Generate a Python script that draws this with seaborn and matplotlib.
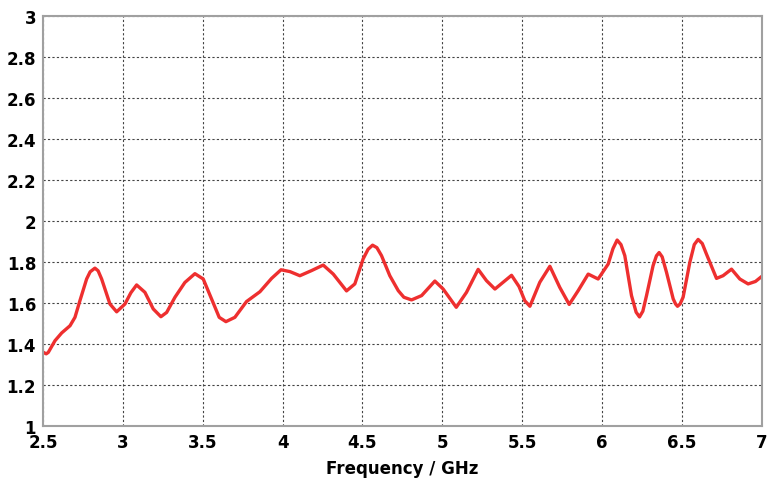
import matplotlib
matplotlib.use("Agg")
import matplotlib.pyplot as plt
import seaborn as sns
import pandas as pd

freq_ghz = [2.500, 2.520, 2.533, 2.575, 2.617, 2.669, 2.700, 2.731, 2.773, 2.795, 2.825,
            2.845, 2.867, 2.919, 2.961, 3.013, 3.050, 3.086, 3.138, 3.190, 3.238, 3.274, 3.326,
            3.388, 3.451, 3.503, 3.555, 3.603, 3.645, 3.701, 3.774, 3.858, 3.931, 3.990,
            4.046, 4.108, 4.181, 4.254, 4.317, 4.400, 4.452, 4.504, 4.535, 4.563, 4.590, 4.619, 4.671,
            4.724, 4.759, 4.807, 4.870, 4.953, 5.005, 5.087, 5.151, 5.224, 5.276, 5.329,
            5.433, 5.480, 5.516, 5.548, 5.610, 5.673, 5.735, 5.794, 5.850, 5.913, 5.975,
            6.038, 6.068, 6.094, 6.118, 6.142, 6.184, 6.213, 6.234, 6.255, 6.278, 6.319, 6.340,
            6.357, 6.376, 6.403, 6.445, 6.460, 6.472, 6.488,
            6.507, 6.549, 6.577, 6.601, 6.627, 6.653, 6.716, 6.757, 6.810, 6.862, 6.914, 6.960, 7.000]
vswr = [1.360, 1.352, 1.359, 1.416, 1.454, 1.489, 1.530, 1.611, 1.717, 1.752, 1.770,
        1.757, 1.717, 1.595, 1.557, 1.595, 1.650, 1.688, 1.652, 1.571, 1.533, 1.554, 1.628,
        1.700, 1.743, 1.717, 1.620, 1.530, 1.509, 1.530, 1.607, 1.655, 1.720, 1.762,
        1.753, 1.733, 1.758, 1.785, 1.741, 1.659, 1.693, 1.815, 1.862, 1.882, 1.870, 1.831, 1.733,
        1.660, 1.628, 1.615, 1.636, 1.707, 1.668, 1.579, 1.652, 1.764, 1.709, 1.668,
        1.735, 1.680, 1.611, 1.584, 1.701, 1.779, 1.676, 1.593, 1.660, 1.741, 1.717,
        1.790, 1.865, 1.907, 1.885, 1.831, 1.636, 1.555, 1.532, 1.560, 1.636, 1.782, 1.830,
        1.846, 1.825, 1.750, 1.620, 1.595, 1.584, 1.595,
        1.628, 1.798, 1.885, 1.910, 1.890, 1.839, 1.720, 1.733, 1.765, 1.717, 1.693, 1.705, 1.730]

x_ticks = [2.5, 3, 3.5, 4, 4.5, 5, 5.5, 6, 6.5, 7]
x_tick_labels = ["2.5", "3", "3.5", "4", "4.5", "5", "5.5", "6", "6.5", "7"]
y_ticks = [1, 1.2, 1.4, 1.6, 1.8, 2, 2.2, 2.4, 2.6, 2.8, 3]
y_tick_labels = ["1", "1.2", "1.4", "1.6", "1.8", "2", "2.2", "2.4", "2.6", "2.8", "3"]

sns.set_style("white")
plt.rcParams["font.family"] = ["DejaVu Sans"]

df = pd.DataFrame({"Frequency": freq_ghz, "VSWR": vswr})

fig = plt.figure(figsize=(7.68, 4.85), dpi=100)
ax = fig.add_axes([0.056, 0.1196, 0.936, 0.8454])

sns.lineplot(data=df, x="Frequency", y="VSWR", ax=ax, color="#ee2f2f", linewidth=2.4)

ax.set_xlim(2.5, 7)
ax.set_ylim(1, 3)
ax.set_xticks(x_ticks)
ax.set_xticklabels(x_tick_labels, fontsize=12, fontweight="bold")
ax.set_yticks(y_ticks)
ax.set_yticklabels(y_tick_labels, fontsize=12, fontweight="bold")
ax.set_xlabel("Frequency / GHz", fontsize=12, fontweight="bold", labelpad=6, color="black")
ax.set_ylabel("")

ax.grid(True, color="#444444", linestyle=(0, (2, 2)), linewidth=0.8)
for s in ax.spines.values():
    s.set_color("#a0a0a0")
    s.set_linewidth(1.5)
ax.tick_params(axis="both", length=3, width=1, color="#808080", pad=2, labelcolor="black")

fig.savefig("out.png", dpi=100)
